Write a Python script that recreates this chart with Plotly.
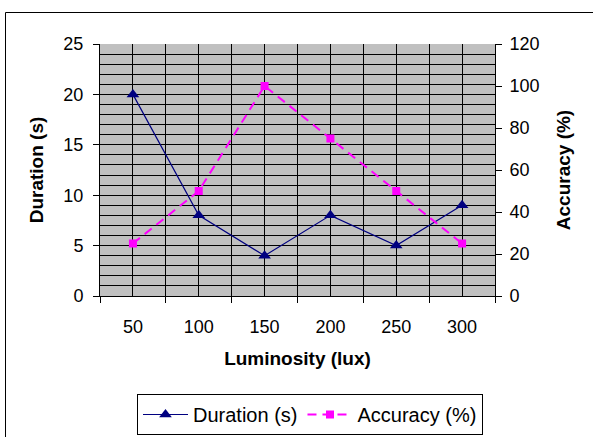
import plotly.graph_objects as go

categories = ["50", "100", "150", "200", "250", "300"]
duration = [20, 8, 4, 8, 5, 9]
accuracy = [25, 50, 100, 75, 50, 25]

# plot area in pixels
W, H = 593, 437
L, R, T, B = 100, 495, 44, 296
pw, ph = R - L, B - T

def px_x(x):
    return (x - L) / pw

def px_y(y):
    return (B - y) / ph

FONT = "Arial, Liberation Sans, sans-serif"
xs = list(range(len(categories)))

fig = go.Figure()
fig.add_trace(go.Scatter(
    x=xs, y=duration, name="Duration (s)", mode="lines+markers",
    line=dict(color="#000080", width=1.2),
    marker=dict(symbol="triangle-up", size=11, color="#000080"),
    yaxis="y",
))
fig.add_trace(go.Scatter(
    x=xs, y=accuracy, name="Accuracy (%)", mode="lines+markers",
    line=dict(color="#FF00FF", width=2, dash="9px,6px"),
    marker=dict(symbol="square", size=8, color="#FF00FF"),
    yaxis="y2",
))

fig.update_layout(
    width=W, height=H,
    margin=dict(l=L, r=W - R, t=T, b=H - B, pad=0, autoexpand=False),
    paper_bgcolor="white", plot_bgcolor="#C0C0C0",
    font=dict(family=FONT, size=18, color="black"),
    showlegend=True,
    legend=dict(
        orientation="h", x=px_x(310), xanchor="center", y=px_y(394), yanchor="top",
        bordercolor="black", borderwidth=1, bgcolor="white",
        font=dict(family=FONT, size=20), itemwidth=45,
        tracegroupgap=0,
    ),
    xaxis=dict(
        range=[-0.5, len(categories) - 0.5], automargin=False,
        tickmode="array", tickvals=xs, ticktext=categories,
        ticks="", showgrid=True, gridcolor="black", gridwidth=1,
        showline=True, linecolor="black", linewidth=1,
        minor=dict(tickmode="array", tickvals=[i - 0.5 for i in range(len(categories) + 1)],
                   ticks="outside", ticklen=6, tickcolor="black", showgrid=True,
                   gridcolor="black", gridwidth=1),
        tickfont=dict(size=18), zeroline=False, ticklabelstandoff=14,
        title=dict(text="<b>Luminosity (lux)</b>", font=dict(size=19), standoff=16),
    ),
    yaxis=dict(
        range=[0, 25], tickmode="linear", tick0=0, dtick=5, automargin=False,
        ticks="outside", ticklen=6, tickcolor="black",
        showgrid=True, gridcolor="black", gridwidth=1,
        minor=dict(dtick=1, showgrid=True, gridcolor="black", gridwidth=1),
        showline=True, linecolor="black", linewidth=1, zeroline=False,
        tickfont=dict(size=18), ticklabelstandoff=6,
        title=dict(text="<b>Duration (s)</b>", font=dict(size=19), standoff=14),
    ),
    yaxis2=dict(
        range=[0, 120], tickmode="linear", tick0=0, dtick=20, automargin=False,
        overlaying="y", side="right",
        ticks="outside", ticklen=6, tickcolor="black", showgrid=False,
        showline=True, linecolor="black", linewidth=1, zeroline=False,
        tickfont=dict(size=18), ticklabelstandoff=4,
        title=dict(text="<b>Accuracy (%)</b>", font=dict(size=19), standoff=18),
    ),
    shapes=[dict(
        type="rect", xref="paper", yref="paper",
        x0=px_x(5.5), x1=px_x(620), y0=px_y(12.5), y1=px_y(460),
        line=dict(color="black", width=1), fillcolor="rgba(0,0,0,0)", layer="below",
    )],
    annotations=[dict(
        text="p", xref="paper", yref="paper", x=px_x(222), y=px_y(-12),
        xanchor="center", yanchor="middle", showarrow=False,
        font=dict(family="Liberation Serif, Times New Roman, serif", size=18, color="black"),
    )],
)

fig.write_html("out.html")
